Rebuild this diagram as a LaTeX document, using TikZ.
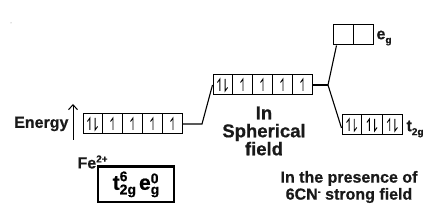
\documentclass[tikz,border=0pt]{standalone}
\usepackage{fontspec}
\setmainfont{Liberation Sans}[BoldFeatures={FakeBold=0.6}]
\usetikzlibrary{arrows.meta,calc}
\begin{document}
\begin{tikzpicture}[x=1pt,y=-1pt,line width=1.1pt,
  lbl/.style={font=\fontsize{16}{17}\selectfont\bfseries,inner sep=0pt,text=black!90},
  orb/.style={draw,rectangle,minimum height=20pt,inner sep=0pt,line width=1pt},
  eup/.pic={\draw[line width=0.9pt] (0,6)--(0,-6)--(-2.5,-2.5);},
  edn/.pic={\draw[line width=0.9pt] (0,-6)--(0,6)--(2.5,2.5);},
  epair/.pic={\pic at (-2.6,0) {eup}; \pic at (2.6,0) {edn};},
  esing/.pic={\pic at (0.5,0) {eup};}
]
\useasboundingbox (0,0) rectangle (445,224);
\fill[black!50] (11,23) circle (0.5);

% orbital rows
\node[orb,minimum width=99pt] (L) at (132.5,124) {};
\node[orb,minimum width=99pt] (M) at (262.5,85) {};
\node[orb,minimum width=40pt] (E) at (353,35) {};
\node[orb,minimum width=60pt] (T) at (372,125) {};

\foreach \n in {L,M}{
  \foreach \f in {0.2,0.4,0.6,0.8}
    \draw[line width=1pt] ($(\n.north west)!\f!(\n.north east)$) -- ($(\n.south west)!\f!(\n.south east)$);
  \pic at ($(\n.west)!0.1!(\n.east)$) {epair};
  \foreach \f in {0.3,0.5,0.7,0.9}
    \pic at ($(\n.west)!\f!(\n.east)$) {esing};
}
\draw[line width=1pt] (E.north) -- (E.south);
\foreach \f in {0.3333,0.6667}
  \draw[line width=1pt] ($(T.north west)!\f!(T.north east)$) -- ($(T.south west)!\f!(T.south east)$);
\foreach \f in {0.1667,0.5,0.8333}
  \pic at ($(T.west)!\f!(T.east)$) {epair};

% connectors
\coordinate (a) at (202,124);
\coordinate (f) at (328,85);
\draw (L.east) -- (a) -- (M.west);
\draw (M.east) -- (f);
\draw (f) -- ([xshift=4pt]E.south west);
\draw (f) -- ([yshift=-3pt]T.west);

% energy arrow
\coordinate (ea) at (73,140);
\coordinate (eb) at (73,104);
\draw[line width=1pt,-{Straight Barb[length=5pt,width=9pt,line width=1pt]}] (ea) -- (eb);
\node[lbl,anchor=east] (en) at (69,124) {Energy};

% Fe label and configuration box
\node[lbl,anchor=west] (fe) at (77,162) {Fe\raisebox{6pt}{\fontsize{10}{10}\selectfont 2+}};
\node[draw,line width=1.2pt,minimum width=76pt,minimum height=35pt,inner sep=0pt] (cfg) at (136,184.5)
  {\bfseries\fontsize{21}{21}\selectfont t\raisebox{-4.5pt}{\fontsize{14}{11}\selectfont\begin{tabular}[b]{@{}l@{}}6\\2g\end{tabular}}\hspace{3pt}e\raisebox{-4.5pt}{\fontsize{14}{11}\selectfont\begin{tabular}[b]{@{}l@{}}0\\g\end{tabular}}};
\draw[line width=2pt] (cfg.north west) -- (cfg.north east);

% level labels
\node[lbl,anchor=west] (eg) at (376,38) {e\raisebox{-4pt}{\fontsize{10}{10}\selectfont g}};
\node[lbl,anchor=west] (tg) at (406,129) {t\raisebox{-4pt}{\fontsize{10}{10}\selectfont 2g}};

\node[lbl,align=center,font=\fontsize{18.5}{18}\selectfont\bfseries] (sph) at (264,131) {In\\Spherical\\field};
\node[lbl,align=center] (cn) at (349,187) {In the presence of\\6CN\raisebox{5pt}{\fontsize{9}{9}\selectfont -} strong field};
\end{tikzpicture}
\end{document}
